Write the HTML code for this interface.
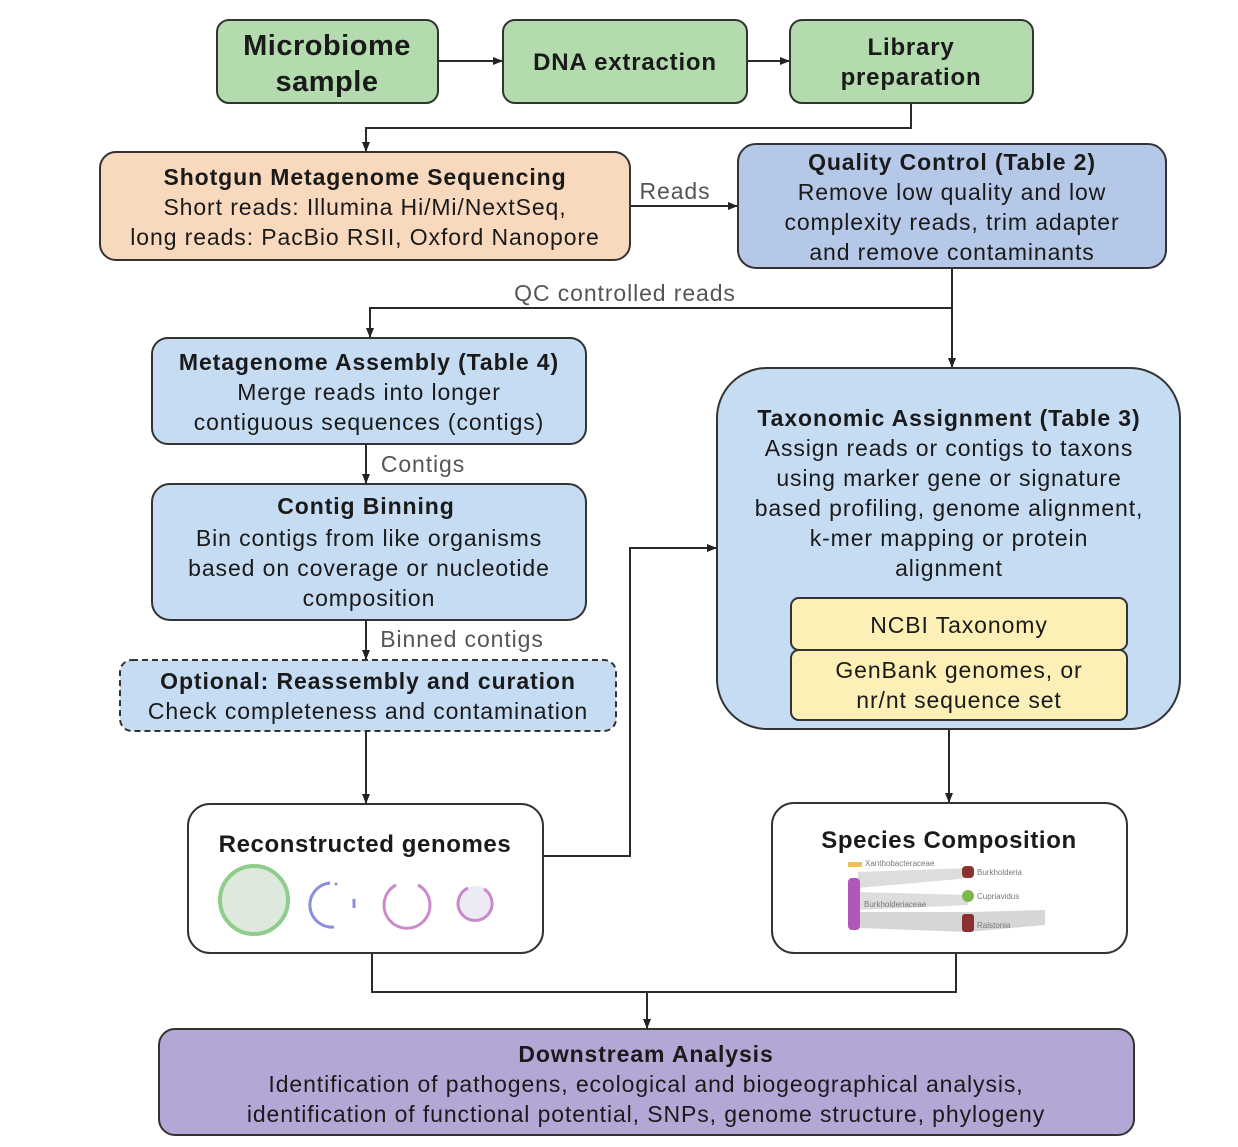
<!DOCTYPE html>
<html><head><meta charset="utf-8"><style>
html,body{margin:0;padding:0;background:#fff}
svg text{font-family:"Liberation Sans",Arial,sans-serif;fill:#1a1a1a}
.b{font-weight:bold}
</style></head><body>
<svg width="1238" height="1142" viewBox="0 0 1238 1142" xmlns="http://www.w3.org/2000/svg">
<defs><marker id="a" markerWidth="10" markerHeight="8" refX="9" refY="4" orient="auto" markerUnits="userSpaceOnUse"><path d="M0,0 L10,4 L0,8 z" fill="#222"/></marker></defs>
<g stroke="#2a2a2a" stroke-width="2" fill="none">
<line x1="438" y1="61" x2="502" y2="61" marker-end="url(#a)"/>
<line x1="747" y1="61" x2="789" y2="61" marker-end="url(#a)"/>
<polyline points="911,103 911,128 366,128 366,151" marker-end="url(#a)"/>
<line x1="630" y1="206" x2="737" y2="206" marker-end="url(#a)"/>
<polyline points="952,268 952,308 370,308 370,337" marker-end="url(#a)"/>
<line x1="952" y1="308" x2="952" y2="367" marker-end="url(#a)"/>
<line x1="366" y1="444" x2="366" y2="483" marker-end="url(#a)"/>
<line x1="366" y1="620" x2="366" y2="659" marker-end="url(#a)"/>
<line x1="366" y1="731" x2="366" y2="803" marker-end="url(#a)"/>
<polyline points="543,856 630,856 630,548 716,548" marker-end="url(#a)"/>
<line x1="949" y1="729" x2="949" y2="802" marker-end="url(#a)"/>
<polyline points="372,953 372,992 956,992 956,953"/>
<line x1="647" y1="992" x2="647" y2="1028" marker-end="url(#a)"/>
</g>
<g stroke="#333" stroke-width="2">
<rect x="217" y="20" width="221" height="83" rx="12" fill="#b3dbae"/>
<rect x="503" y="20" width="244" height="83" rx="12" fill="#b3dbae"/>
<rect x="790" y="20" width="243" height="83" rx="12" fill="#b3dbae"/>
<rect x="100" y="152" width="530" height="108" rx="16" fill="#f9d9bd"/>
<rect x="738" y="144" width="428" height="124" rx="18" fill="#b6c8e8"/>
<rect x="152" y="338" width="434" height="106" rx="16" fill="#c5dcf2"/>
<rect x="152" y="484" width="434" height="136" rx="18" fill="#c5dcf2"/>
<rect x="120" y="660" width="496" height="71" rx="12" fill="#c5dcf2" stroke-dasharray="6,4"/>
<rect x="717" y="368" width="463" height="361" rx="50" fill="#c5dcf2"/>
<rect x="791" y="598" width="336" height="52" rx="8" fill="#fdf0b7"/>
<rect x="791" y="650" width="336" height="70" rx="8" fill="#fdf0b7"/>
<rect x="188" y="804" width="355" height="149" rx="22" fill="#fff"/>
<rect x="772" y="803" width="355" height="150" rx="22" fill="#fff"/>
<rect x="159" y="1029" width="975" height="106" rx="16" fill="#b4a7d6"/>
</g>
<g text-anchor="middle" font-size="23" letter-spacing="0.9">
<text x="327" y="55" class="b" font-size="29" letter-spacing="0.5">Microbiome</text>
<text x="327" y="91" class="b" font-size="29" letter-spacing="0.5">sample</text>
<text x="625" y="70" class="b" font-size="24" letter-spacing="0.8">DNA extraction</text>
<text x="911" y="55" class="b" font-size="24" letter-spacing="0.8">Library</text>
<text x="911" y="85" class="b" font-size="24" letter-spacing="0.8">preparation</text>
<text x="365" y="185" class="b">Shotgun Metagenome Sequencing</text>
<text x="365" y="215">Short reads: Illumina Hi/Mi/NextSeq,</text>
<text x="365" y="245">long reads: PacBio RSII, Oxford Nanopore</text>
<text x="675" y="199" style="fill:#555">Reads</text>
<text x="952" y="170" class="b">Quality Control (Table 2)</text>
<text x="952" y="200">Remove low quality and low</text>
<text x="952" y="230">complexity reads, trim adapter</text>
<text x="952" y="260">and remove contaminants</text>
<text x="625" y="301" style="fill:#555">QC controlled reads</text>
<text x="369" y="370" class="b">Metagenome Assembly (Table 4)</text>
<text x="369" y="400">Merge reads into longer</text>
<text x="369" y="430">contiguous sequences (contigs)</text>
<text x="423" y="472" style="fill:#555">Contigs</text>
<text x="366" y="514" class="b">Contig Binning</text>
<text x="369" y="546">Bin contigs from like organisms</text>
<text x="369" y="576">based on coverage or nucleotide</text>
<text x="369" y="606">composition</text>
<text x="462" y="647" style="fill:#555">Binned contigs</text>
<text x="368" y="689" class="b">Optional: Reassembly and curation</text>
<text x="368" y="719">Check completeness and contamination</text>
<text x="949" y="426" class="b">Taxonomic Assignment (Table 3)</text>
<text x="949" y="456">Assign reads or contigs to taxons</text>
<text x="949" y="486">using marker gene or signature</text>
<text x="949" y="516">based profiling, genome alignment,</text>
<text x="949" y="546">k-mer mapping or protein</text>
<text x="949" y="576">alignment</text>
<text x="959" y="633">NCBI Taxonomy</text>
<text x="959" y="678">GenBank genomes, or</text>
<text x="959" y="708">nr/nt sequence set</text>
<text x="365" y="852" class="b" font-size="24" letter-spacing="0.6">Reconstructed genomes</text>
<text x="949" y="848" class="b" font-size="24" letter-spacing="0.6">Species Composition</text>
<text x="646" y="1062" class="b">Downstream Analysis</text>
<text x="646" y="1092">Identification of pathogens, ecological and biogeographical analysis,</text>
<text x="646" y="1122">identification of functional potential, SNPs, genome structure, phylogeny</text>
</g>
<circle cx="254" cy="900" r="34" fill="#dde9dc" stroke="#8fcd8c" stroke-width="4"/>
<path d="M334,927 A22,22 0 0 1 330,883" fill="none" stroke="#8a8ee0" stroke-width="3"/>
<circle cx="336" cy="884" r="1.5" fill="#8a8ee0"/>
<line x1="354" y1="899" x2="354" y2="908" stroke="#8a8ee0" stroke-width="3"/>
<path d="M418,885 A23,23 0 1 1 396,885" fill="none" stroke="#cc88cc" stroke-width="3"/>
<circle cx="475" cy="903" r="17" fill="#ecebf5"/>
<path d="M484,889 A17,17 0 1 1 468,888" fill="none" stroke="#cc88cc" stroke-width="3"/>
<g>
<path d="M858,872 L970,868 L970,878 L858,888 Z" fill="#ddd"/>
<path d="M858,892 L968,895 L968,905 L858,910 Z" fill="#ddd"/>
<path d="M858,912 L968,912 L1045,910 L1045,925 L968,932 L858,928 Z" fill="#d6d6d6"/>
<rect x="848" y="862" width="14" height="5" fill="#f0c050"/>
<rect x="848" y="878" width="12" height="52" rx="4" fill="#b157b8"/>
<rect x="962" y="866" width="12" height="12" rx="4" fill="#8b3030"/>
<circle cx="968" cy="896" r="6" fill="#7cb84a"/>
<rect x="962" y="914" width="12" height="18" rx="3" fill="#8b3030"/>
<text x="865" y="866" style="fill:#777;font-size:8px">Xanthobacteraceae</text>
<text x="864" y="907" style="fill:#777;font-size:8px">Burkholderiaceae</text>
<text x="977" y="875" style="fill:#777;font-size:8px">Burkholderia</text>
<text x="977" y="899" style="fill:#777;font-size:8px">Cupriavidus</text>
<text x="977" y="928" style="fill:#777;font-size:8px">Ralstonia</text>
</g>
</svg>
</body></html>
